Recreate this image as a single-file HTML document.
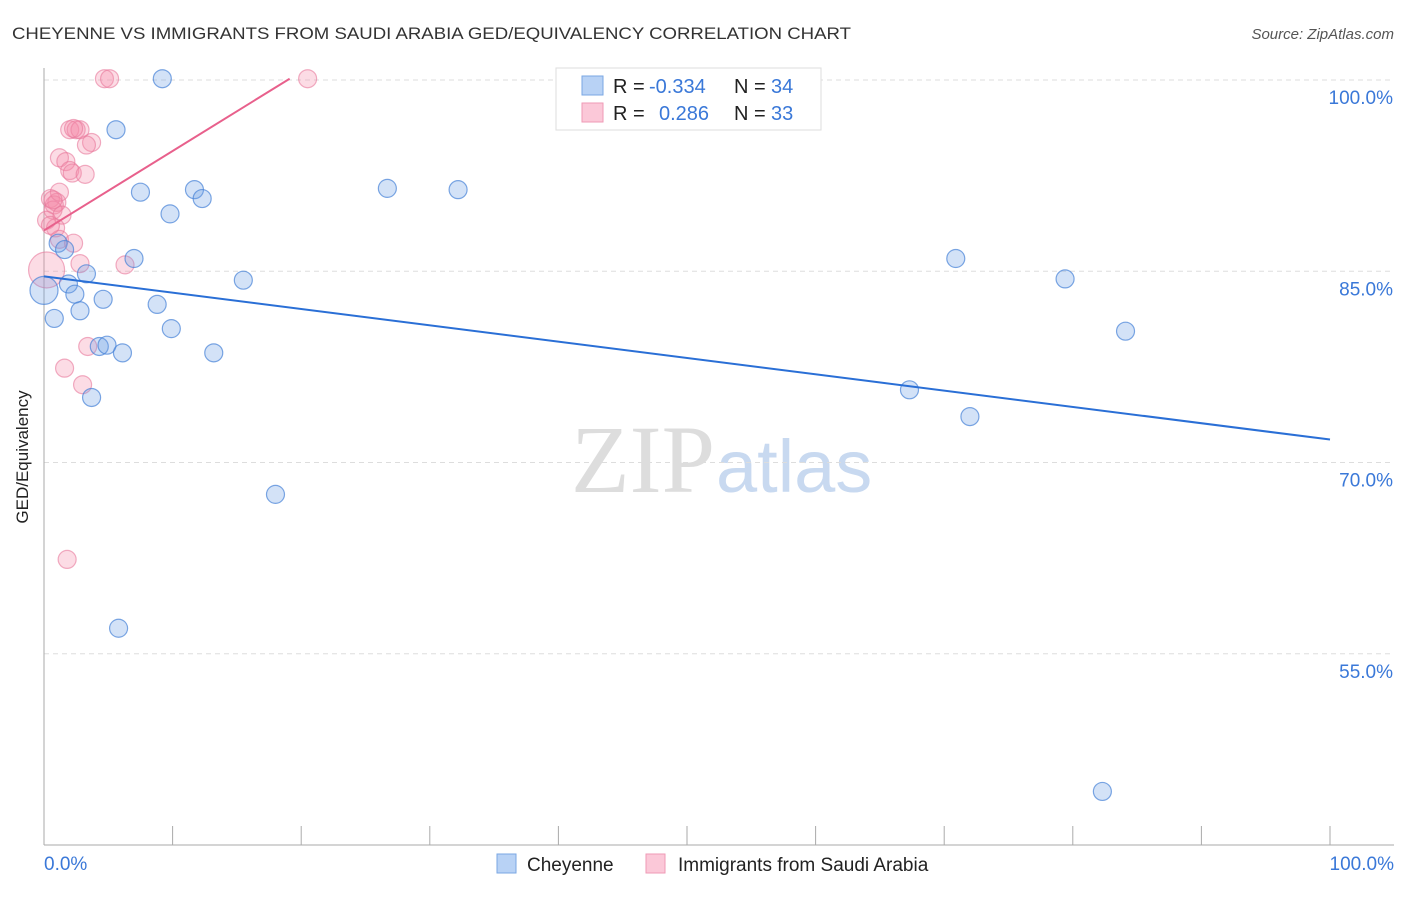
<!DOCTYPE html>
<html><head><meta charset="utf-8"><style>
body{margin:0;background:#fff;font-family:"Liberation Sans",sans-serif}
</style></head><body>
<svg width="1406" height="892" xmlns="http://www.w3.org/2000/svg">
<text x="12" y="39" font-size="17" fill="#333" textLength="839" lengthAdjust="spacingAndGlyphs">CHEYENNE VS IMMIGRANTS FROM SAUDI ARABIA GED/EQUIVALENCY CORRELATION CHART</text>
<text x="1394" y="39" font-size="15" fill="#555" font-style="italic" text-anchor="end">Source: ZipAtlas.com</text>
<text x="715" y="492" font-size="96" fill="#ddd" text-anchor="end" font-family="Liberation Serif,serif">ZIP</text>
<text x="716" y="492" font-size="74" fill="#c8d9f0">atlas</text>
<g id="grid"></g>
<line x1="44" y1="68" x2="44" y2="845" stroke="#aaa"/>
<line x1="44" y1="845" x2="1394" y2="845" stroke="#aaa"/>
<g id="ticks"></g>
<text x="28" y="457" font-size="17" fill="#222" text-anchor="middle" transform="rotate(-90 28 457)">GED/Equivalency</text>
<text x="44" y="870" font-size="19" fill="#3a78d8">0.0%</text>
<text x="1394" y="870" font-size="19" fill="#3a78d8" text-anchor="end">100.0%</text>
<g id="pts"></g>
<g id="lines"></g>
<g>
<rect x="556" y="68" width="265" height="62" fill="#fff" stroke="#ddd"/>
<rect x="582" y="76" width="21" height="19" fill="#b8d2f5" stroke="#7aa7e3"/>
<rect x="582" y="103" width="21" height="19" fill="#fbc8d8" stroke="#ef9ab6"/>
<text x="613" y="93" font-size="20" fill="#222">R = <tspan x="649" fill="#3a78d8">-0.334</tspan><tspan x="734">N = </tspan><tspan x="771" fill="#3a78d8">34</tspan></text>
<text x="613" y="120" font-size="20" fill="#222">R = <tspan x="659" fill="#3a78d8">0.286</tspan><tspan x="734">N = </tspan><tspan x="771" fill="#3a78d8">33</tspan></text>
</g>
<g>
<rect x="497" y="854" width="19" height="19" fill="#b8d2f5" stroke="#7aa7e3"/>
<text x="527" y="871" font-size="19" fill="#222">Cheyenne</text>
<rect x="646" y="854" width="19" height="19" fill="#fbc8d8" stroke="#ef9ab6"/>
<text x="678" y="871" font-size="19" fill="#222">Immigrants from Saudi Arabia</text>
</g>
</svg>
<script>
const yTicks=[100,85,70,55];
const yTickLabels=["100.0%","85.0%","70.0%","55.0%"];
const blueX=[9.2,5.6,7.5,11.7,12.3,9.8,26.7,32.2,7.0,1.1,1.6,3.3,15.5,1.9,2.4,4.6,2.8,8.8,0.8,9.9,4.3,4.9,6.1,13.2,3.7,18.0,5.8,70.9,79.4,84.1,67.3,72.0,82.3,0];
const blueY=[100.1,96.1,91.2,91.4,90.7,89.5,91.5,91.4,86.0,87.2,86.7,84.8,84.3,84.0,83.2,82.8,81.9,82.4,81.3,80.5,79.1,79.2,78.6,78.6,75.1,67.5,57.0,86.0,84.4,80.3,75.7,73.6,44.2,83.5];
const pinkX=[4.7,5.1,20.5,2.0,2.5,2.8,2.3,3.7,3.3,1.2,1.7,2.0,2.2,3.2,0.5,1.0,0.8,1.2,0.7,1.4,0.2,0.9,1.2,2.3,2.8,6.3,0.2,3.4,1.6,3.0,1.8,0.7,0.5];
const pinkY=[100.1,100.1,100.1,96.1,96.1,96.1,96.2,95.1,94.9,93.9,93.6,92.9,92.7,92.6,90.7,90.4,90.2,91.2,89.8,89.4,89.0,88.4,87.5,87.2,85.6,85.5,85.1,79.1,77.4,76.1,62.4,90.6,88.6];
const blueTrend=[84.6,71.8];
const pinkTrend=[88.2,100.1,19.1];
const sx=v=>44+v*12.86, sy=v=>80+(100-v)*12.75;
const NS="http://www.w3.org/2000/svg";
function mk(t,a,p){const e=document.createElementNS(NS,t);for(const k in a)e.setAttribute(k,a[k]);p.appendChild(e);return e;}
const grid=document.getElementById('grid');
yTicks.forEach((t,i)=>{
 const l=mk('line',{x1:44,x2:1394,y1:sy(t),y2:sy(t),stroke:'#ddd','stroke-dasharray':'5,4'},grid);
 
 
 const tx=mk('text',{x:1393,y:sy(t)+24,'font-size':19,fill:'#3a78d8','text-anchor':'end'},grid);
 tx.textContent=yTickLabels[i];
 
 
});
const tk=document.getElementById('ticks');
for(let i=0;i<=10;i++){const l=mk('line',{x1:sx(i*10),x2:sx(i*10),y1:826,y2:845,stroke:'#aaa'},tk);
 
 }
const pts=document.getElementById('pts');
pinkX.forEach((x,i)=>{const big=i==26;const c=mk('circle',{cx:sx(x),cy:sy(pinkY[i]),r:big?18:9,fill:'rgba(245,140,170,0.3)',stroke:'rgba(232,120,155,0.6)','stroke-width':1.2},pts);
 
 });
blueX.forEach((x,i)=>{const big=i==33;const c=mk('circle',{cx:sx(x),cy:sy(blueY[i]),r:big?14:9,fill:'rgba(110,160,230,0.3)',stroke:'rgba(70,130,215,0.7)','stroke-width':1.2},pts);
 
 });
const ln=document.getElementById('lines');
const b=mk('line',{x1:sx(0),y1:sy(blueTrend[0]),x2:sx(100),y2:sy(blueTrend[1]),stroke:'#2a6fd6','stroke-width':2},ln);


const p=mk('line',{x1:sx(0),y1:sy(pinkTrend[0]),x2:sx(pinkTrend[2]),y2:sy(pinkTrend[1]),stroke:'#e8608c','stroke-width':2},ln);


</script>
</body></html>
